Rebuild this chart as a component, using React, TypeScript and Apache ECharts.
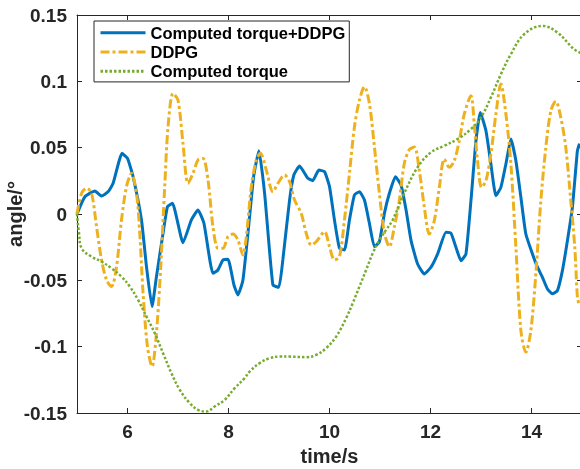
import React, { useEffect, useRef } from "react";
import * as echarts from "echarts";

const xTicks = [6, 8, 10, 12, 14];

const hybrid: [number, number][] = [
  [5.0, 0], [5.156, 0.013], [5.354, 0.0173], [5.486, 0.0136], [5.616, 0.0168], [5.715, 0.0231],
  [5.893, 0.0457], [6.0, 0.0419], [6.111, 0.0281], [6.277, -0.0045], [6.376, -0.0397], [6.486, -0.0698],
  [6.573, -0.0472], [6.704, -0.0145], [6.791, 0.0055], [6.89, 0.0081], [7.099, -0.0216], [7.265, -0.0045],
  [7.396, 0.003], [7.514, -0.007], [7.692, -0.0447], [7.791, -0.0422], [7.89, -0.0346], [7.989, -0.0341],
  [8.108, -0.0535], [8.187, -0.061], [8.286, -0.0497], [8.418, -0.002], [8.497, 0.0281], [8.602, 0.0477],
  [8.715, 0.0156], [8.879, -0.0535], [8.997, -0.0552], [9.076, -0.0346], [9.209, 0.0105], [9.294, 0.0294],
  [9.406, 0.0361], [9.571, 0.0269], [9.669, 0.0251], [9.788, 0.0331], [9.901, 0.0319], [10.0, 0.0206],
  [10.098, -0.0045], [10.197, -0.0258], [10.296, -0.0271], [10.395, -0.0045], [10.494, 0.0143],
  [10.593, 0.0168], [10.692, 0.0105], [10.79, -0.007], [10.889, -0.0246], [10.988, -0.0209],
  [11.087, 0.0005], [11.186, 0.0156], [11.305, 0.0281], [11.417, 0.0218], [11.516, 0.003],
  [11.615, -0.0201], [11.745, -0.0377], [11.878, -0.0452], [12.01, -0.0401], [12.141, -0.0301],
  [12.307, -0.0138], [12.406, -0.0145], [12.504, -0.0251], [12.603, -0.0352], [12.702, -0.0301],
  [12.801, 0.01], [12.9, 0.0552], [12.985, 0.0766], [13.098, 0.0627], [13.196, 0.0377], [13.295, 0.0138],
  [13.394, 0.0201], [13.493, 0.0377], [13.592, 0.0565], [13.691, 0.0401], [13.79, 0.0126], [13.888, -0.0151],
  [14.019, -0.0301], [14.118, -0.0401], [14.217, -0.0477], [14.316, -0.0565], [14.414, -0.0602],
  [14.513, -0.0578], [14.612, -0.0427], [14.711, -0.0201], [14.81, 0.005], [14.909, 0.0477], [14.95, 0.053],
];

const ddpg: [number, number][] = [
  [5.0, 0], [5.091, 0.0156], [5.189, 0.0194], [5.288, 0.0156], [5.387, -0.0096], [5.486, -0.0346],
  [5.585, -0.0497], [5.684, -0.0547], [5.783, -0.0397], [5.881, -0.0045], [5.98, 0.0206], [6.079, 0.0306],
  [6.178, 0.0156], [6.243, -0.0145], [6.308, -0.0597], [6.395, -0.0999], [6.486, -0.115], [6.573, -0.0898],
  [6.658, -0.0397], [6.737, 0.0206], [6.803, 0.0657], [6.902, 0.0909], [7.0, 0.0858], [7.099, 0.0532],
  [7.198, 0.0231], [7.297, 0.0306], [7.396, 0.0407], [7.495, 0.0419], [7.594, 0.0256], [7.692, -0.0096],
  [7.791, -0.0258], [7.89, -0.0258], [7.989, -0.0171], [8.088, -0.0151], [8.187, -0.0196], [8.286, -0.0309],
  [8.353, -0.0171], [8.452, 0.0206], [8.55, 0.0407], [8.63, 0.0457], [8.748, 0.0331], [8.879, 0.0168],
  [8.978, 0.0231], [9.11, 0.0294], [9.209, 0.0243], [9.308, 0.0105], [9.44, 0.0005], [9.539, -0.0145],
  [9.638, -0.0233], [9.737, -0.0209], [9.901, -0.0133], [10.0, -0.0246], [10.098, -0.0346], [10.197, -0.0322],
  [10.296, -0.0045], [10.395, 0.0306], [10.494, 0.0657], [10.593, 0.0858], [10.692, 0.0959], [10.79, 0.0834],
  [10.889, 0.0507], [10.988, 0.0156], [11.087, -0.0145], [11.186, -0.0246], [11.285, -0.0096], [11.384, 0.0105],
  [11.483, 0.0384], [11.582, 0.0486], [11.68, 0.0505], [11.779, 0.0326], [11.878, 0.005], [11.977, -0.0151],
  [12.076, -0.005], [12.175, 0.0201], [12.273, 0.0414], [12.372, 0.0352], [12.471, 0.0401], [12.57, 0.0552],
  [12.669, 0.0753], [12.801, 0.0891], [12.866, 0.0678], [12.932, 0.0401], [13.011, 0.0201], [13.098, 0.0251],
  [13.196, 0.0452], [13.295, 0.0753], [13.394, 0.0979], [13.493, 0.0753], [13.592, 0.0377], [13.691, -0.0251],
  [13.79, -0.0879], [13.888, -0.1041], [13.987, -0.0879], [14.086, -0.0452], [14.185, 0.01], [14.284, 0.0502],
  [14.383, 0.0778], [14.481, 0.0849], [14.58, 0.0728], [14.679, 0.0502], [14.778, 0.01], [14.857, -0.0251],
  [14.909, -0.0627], [14.94, -0.068],
];

const computed: [number, number][] = [
  [5.0, 0], [5.04, -0.0145], [5.091, -0.0258], [5.288, -0.0322], [5.486, -0.0359], [5.684, -0.0409],
  [5.881, -0.0472], [6.045, -0.0547], [6.21, -0.0648], [6.376, -0.0773], [6.54, -0.0898], [6.704, -0.1049],
  [6.87, -0.12], [7.034, -0.1325], [7.232, -0.1425], [7.396, -0.1476], [7.562, -0.1489], [7.726, -0.1451],
  [7.924, -0.1401], [8.122, -0.1313], [8.319, -0.1237], [8.418, -0.1188], [8.616, -0.1124], [8.814, -0.1087],
  [9.011, -0.1075], [9.209, -0.1075], [9.539, -0.1079], [9.737, -0.1062], [9.934, -0.1011], [10.132, -0.0924],
  [10.33, -0.0785], [10.46, -0.0672], [10.593, -0.0547], [10.725, -0.0422], [10.856, -0.0296], [10.988, -0.0196],
  [11.121, -0.012], [11.251, -0.0045], [11.482, 0.0158], [11.745, 0.0352], [12.01, 0.0465], [12.273, 0.0514],
  [12.536, 0.0565], [12.801, 0.064], [12.999, 0.0728], [13.196, 0.0879], [13.394, 0.1054], [13.592, 0.1205],
  [13.855, 0.1355], [14.217, 0.1418], [14.513, 0.1368], [14.843, 0.1242], [15.0, 0.121],
];

const FONT = 'Arial, "Liberation Sans", Helvetica, sans-serif';
const AXIS = "#262626";

export default function App() {
  const ref = useRef<HTMLDivElement>(null);
  useEffect(() => {
    const chart = echarts.init(ref.current!, null, { renderer: "svg" });
    const axisLine = { show: true, onZero: false, lineStyle: { color: AXIS, width: 1 } };
    const tickStyle = { show: true, inside: true, length: 5, lineStyle: { color: AXIS, width: 1 } };
    const labelStyle = { fontFamily: FONT, fontSize: 19, fontWeight: "bold", color: AXIS };
    const fmtY = (v: number) => {
      const r = Math.round(v * 100) / 100;
      return r === 0 ? "0" : String(r);
    };
    chart.setOption({
      animation: false,
      grid: { left: 77, top: 15, width: 505, height: 398, containLabel: false, outerBoundsMode: "none" },
      legend: {
        orient: "vertical",
        left: 94,
        top: 21,
        padding: [2, 4, 1, 5],
        itemGap: 0,
        itemWidth: 45,
        itemHeight: 12,
        backgroundColor: "#ffffff",
        borderColor: AXIS,
        borderWidth: 1,
        borderRadius: 0,
        itemStyle: { opacity: 0, borderWidth: 0 },
        lineStyle: { width: 3 },
        textStyle: { fontFamily: FONT, fontSize: 16.5, fontWeight: "bold", color: "#000", lineHeight: 19.3 },
        data: ["Computed torque+DDPG", "DDPG", "Computed torque"],
      },
      xAxis: [
        {
          type: "value", min: 5, max: 15, position: "bottom",
          name: "time/s", nameLocation: "middle", nameGap: 33,
          nameTextStyle: { fontFamily: FONT, fontSize: 20, fontWeight: "bold", color: AXIS },
          axisLine, axisTick: { ...tickStyle, customValues: xTicks },
          axisLabel: { ...labelStyle, margin: 9, customValues: xTicks },
          splitLine: { show: false },
        },
        {
          type: "value", min: 5, max: 15, position: "top",
          axisLine, axisTick: { ...tickStyle, customValues: xTicks },
          axisLabel: { show: false }, splitLine: { show: false },
        },
      ],
      yAxis: [
        {
          type: "value", min: -0.15, max: 0.15, interval: 0.05, position: "left",
          name: "angle/°", nameLocation: "middle", nameGap: 52, nameMoveOverlap: false,
          nameTextStyle: { fontFamily: FONT, fontSize: 20, fontWeight: "bold", color: AXIS },
          axisLine, axisTick: tickStyle,
          axisLabel: { ...labelStyle, margin: 10, formatter: fmtY },
          splitLine: { show: false },
        },
        {
          type: "value", min: -0.15, max: 0.15, interval: 0.05, position: "right",
          axisLine, axisTick: tickStyle, axisLabel: { show: false }, splitLine: { show: false },
        },
      ],
      series: [
        {
          name: "Computed torque+DDPG", type: "line", data: hybrid, symbol: "none", smooth: 0.15,
          lineStyle: { color: "#0072BD", width: 3 }, itemStyle: { color: "#0072BD" },
        },
        {
          name: "DDPG", type: "line", data: ddpg, symbol: "none", smooth: 0.3,
          lineStyle: { color: "#EDB120", width: 3, type: [9, 3, 3, 3] }, itemStyle: { color: "#EDB120" },
        },
        {
          name: "Computed torque", type: "line", data: computed, symbol: "none", smooth: 0.4,
          lineStyle: { color: "#77AC30", width: 2.5, type: [2.5, 2] }, itemStyle: { color: "#77AC30" },
        },
      ],
    });
    return () => chart.dispose();
  }, []);
  return <div ref={ref} style={{ position: "fixed", left: 0, top: 0, width: 580, height: 469 }} />;
}
